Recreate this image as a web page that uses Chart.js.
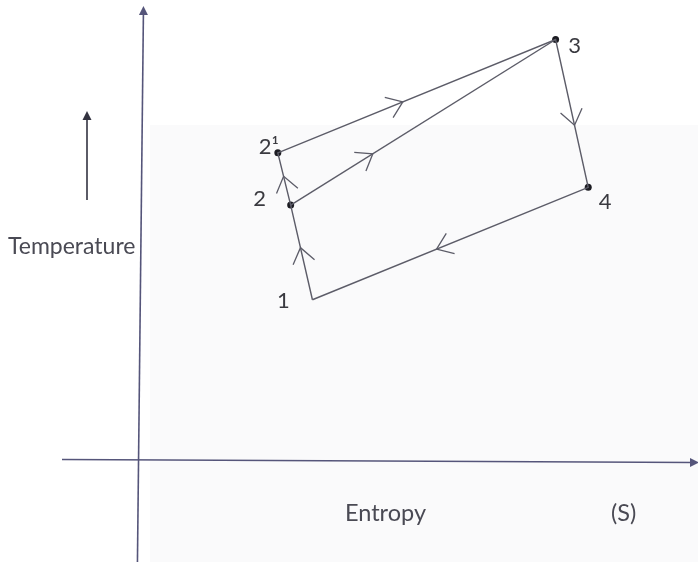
<!DOCTYPE html>
<html lang="en">
<head>
    <meta charset="UTF-8">
    <title>T-S diagram</title>
    <script src="https://cdn.jsdelivr.net/npm/chart.js@4.4.1/dist/chart.umd.min.js"></script>
    <style>
        body { margin: 0; background: #ffffff; }
        canvas { display: block; }
    </style>
</head>
<body>
    <canvas id="chart" width="698" height="562"></canvas>
    <script>
        // state points of the cycle (diagram units, origin at the axes crossing)
        const pointNames = ['1', '2', '2\u00b9', '3', '4'];
        const entropy = [175, 153, 140, 421, 454];
        const temperature = [161, 257, 310, 425, 275];

        // paths as indexes into the point arrays
        const cyclePath = [0, 1, 2, 3, 4, 0];
        const branchPath = [1, 3];
        const dotPoints = [1, 2, 3, 4];

        // direction chevrons: segment from -> to, position t along it
        const arrowFrom = [2, 1, 3, 4, 0, 1];
        const arrowTo   = [3, 3, 4, 0, 1, 2];
        const arrowT    = [0.45, 0.31, 0.58, 0.55, 0.55, 0.55];

        const lineColor = '#5c5c68';
        const axisColor = '#55557a';
        const textColor = '#4a4a54';

        function pt(i) { return { x: entropy[i], y: temperature[i] }; }

        const diagramPlugin = {
            id: 'diagram',
            beforeDraw(chart) {
                const ctx = chart.ctx;
                ctx.save();
                ctx.fillStyle = '#ffffff';
                ctx.fillRect(0, 0, chart.width, chart.height);
                // faint grey of the scanned page
                ctx.fillStyle = '#fafafb';
                ctx.fillRect(150, 125, chart.width - 150, chart.height - 125);
                ctx.restore();
            },
            beforeDatasetsDraw(chart) {
                const ctx = chart.ctx;
                const ox = chart.scales.x.getPixelForValue(0);
                const oy = chart.scales.y.getPixelForValue(0);
                ctx.save();
                ctx.strokeStyle = axisColor;
                ctx.fillStyle = axisColor;
                ctx.lineWidth = 1.6;
                // temperature axis
                ctx.beginPath();
                ctx.moveTo(ox + 4, 12);
                ctx.lineTo(ox - 2, chart.height);
                ctx.stroke();
                tri(ctx, ox + 4, 6, 0, -1, 9, 4.5);
                // entropy axis
                ctx.beginPath();
                ctx.moveTo(62, oy + 1);
                ctx.lineTo(chart.width - 4, oy + 4);
                ctx.stroke();
                tri(ctx, chart.width + 1, oy + 4, 1, 0, 9, 4.5);
                // small arrow beside the label
                ctx.strokeStyle = '#333340';
                ctx.fillStyle = '#333340';
                ctx.beginPath();
                ctx.moveTo(87, 200);
                ctx.lineTo(87, 117);
                ctx.stroke();
                tri(ctx, 87, 111, 0, -1, 9, 4.5);
                ctx.restore();
            },
            afterDatasetsDraw(chart) {
                const ctx = chart.ctx;
                const xs = chart.scales.x, ys = chart.scales.y;
                ctx.save();
                // chevrons
                ctx.strokeStyle = lineColor;
                ctx.lineWidth = 1.3;
                for (let k = 0; k < arrowFrom.length; k++) {
                    const ax = xs.getPixelForValue(entropy[arrowFrom[k]]);
                    const ay = ys.getPixelForValue(temperature[arrowFrom[k]]);
                    const bx = xs.getPixelForValue(entropy[arrowTo[k]]);
                    const by = ys.getPixelForValue(temperature[arrowTo[k]]);
                    const len = Math.hypot(bx - ax, by - ay);
                    const dx = (bx - ax) / len, dy = (by - ay) / len;
                    const tx = ax + (bx - ax) * arrowT[k];
                    const ty = ay + (by - ay) * arrowT[k];
                    const back = 15, side = 11;
                    ctx.beginPath();
                    ctx.moveTo(tx - back * dx - side * dy, ty - back * dy + side * dx);
                    ctx.lineTo(tx, ty);
                    ctx.lineTo(tx - back * dx + side * dy, ty - back * dy - side * dx);
                    ctx.stroke();
                }
                // point labels
                const offs = [[-29, 1], [-31, -6], [-9, -6], [19, 6], [17, 15]];
                ctx.fillStyle = '#3a3a40';
                ctx.font = '22px Lato';
                ctx.textAlign = 'center';
                ctx.textBaseline = 'middle';
                pointNames.forEach((name, i) => {
                    const px = xs.getPixelForValue(entropy[i]) + offs[i][0];
                    const py = ys.getPixelForValue(temperature[i]) + offs[i][1];
                    ctx.fillText(name, px, py);
                });
                // axis captions
                ctx.fillStyle = textColor;
                ctx.textAlign = 'left';
                ctx.textBaseline = 'alphabetic';
                ctx.font = '23px Lato';
                ctx.fillText('Temperature', 8, 254);
                ctx.font = '23.5px Lato';
                ctx.fillText('Entropy', 345, 521);
                ctx.fillText('(S)', 611, 521);
                ctx.restore();
            }
        };

        function tri(ctx, x, y, dx, dy, l, w) {
            ctx.beginPath();
            ctx.moveTo(x, y);
            ctx.lineTo(x - l * dx - w * dy, y - l * dy + w * dx);
            ctx.lineTo(x - l * dx + w * dy, y - l * dy - w * dx);
            ctx.closePath();
            ctx.fill();
        }

        new Chart(document.getElementById('chart'), {
            type: 'scatter',
            data: {
                datasets: [
                    {
                        data: cyclePath.map(pt),
                        showLine: true,
                        borderColor: lineColor,
                        borderWidth: 1.4,
                        pointRadius: 0,
                        tension: 0
                    },
                    {
                        data: branchPath.map(pt),
                        showLine: true,
                        borderColor: lineColor,
                        borderWidth: 1.4,
                        pointRadius: 0
                    },
                    {
                        data: dotPoints.map(pt),
                        showLine: false,
                        pointRadius: 3.5,
                        pointBackgroundColor: '#1c1c22',
                        pointBorderWidth: 0
                    }
                ]
            },
            options: {
                responsive: false,
                animation: false,
                events: [],
                layout: { padding: 0 },
                plugins: {
                    legend: { display: false },
                    tooltip: { enabled: false }
                },
                scales: {
                    x: { type: 'linear', min: -137, max: 561, display: false },
                    y: { type: 'linear', min: -101, max: 461, display: false }
                }
            },
            plugins: [diagramPlugin]
        });
    </script>
</body>
</html>
